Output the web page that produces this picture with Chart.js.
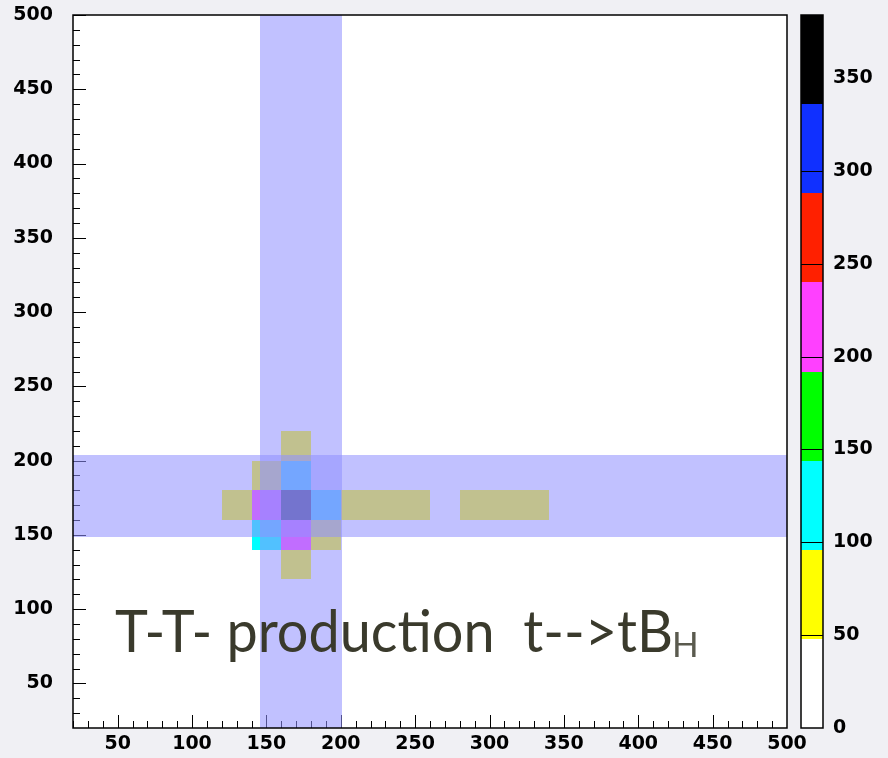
<!DOCTYPE html>
<html>
<head>
<meta charset="utf-8">
<script src="https://cdn.jsdelivr.net/npm/chart.js@4/dist/chart.umd.min.js"></script>
<style>
  html, body { margin: 0; padding: 0; background: #f0f0f4; }
  #wrap { width: 888px; height: 758px; }
</style>
</head>
<body>
<div id="wrap"><canvas id="c" width="888" height="758"></canvas></div>
<script>
// 2-D histogram: lower bin edges and bin contents
const binWidth = 20;
const cellX = [160, 140, 160, 120, 140, 160, 180, 200, 220, 240, 280, 300, 320, 140, 160, 180, 160];
const cellY = [200, 180, 180, 160, 160, 160, 160, 160, 160, 160, 160, 160, 160, 140, 140, 140, 120];
const cellValues = [62, 55, 118, 71, 214, 384, 127, 58, 52, 50, 53, 66, 49, 104, 205, 76, 60];

// Selection windows shaded across the plane
const windowX = [145.5, 201];
const windowY = [148.3, 203.9];

// Axes
const axisMin = 20;
const axisMax = 500;
const xTickLabels = [50, 100, 150, 200, 250, 300, 350, 400, 450, 500];
const yTickLabels = [50, 100, 150, 200, 250, 300, 350, 400, 450, 500];
const zMax = 384;
const zTickLabels = [0, 50, 100, 150, 200, 250, 300, 350];
const paletteColors = ['#ffffff', '#ffff00', '#00ffff', '#00ff00', '#ff40ff', '#ff2000', '#1030ff', '#000000'];

// caption; a zero-width non-joiner keeps "t" and "i" as separate glyphs
const caption = 'T-T- produc\u200Ction  t-->tB';
const captionSub = 'H';

const tickFont = { family: 'DejaVu Sans', size: 19, weight: 'bold', lineHeight: 1.2 };

function colourFor(v) {
  const n = paletteColors.length;
  const k = Math.min(n - 1, Math.floor(v / zMax * n));
  return paletteColors[k];
}

// keep label padding from shrinking the plot vertically
function noEdgePadding(s) {
  s.paddingTop = 0;
  s.paddingBottom = 0;
}

const histPlugin = {
  id: 'histPlugin',
  beforeDraw(chart) {
    const ctx = chart.ctx, a = chart.chartArea;
    ctx.save();
    ctx.fillStyle = '#f0f0f4';
    ctx.fillRect(0, 0, chart.width, chart.height);
    ctx.fillStyle = '#ffffff';
    ctx.fillRect(a.left, a.top, a.right - a.left, a.bottom - a.top);
    ctx.restore();
  },
  afterDatasetsDraw(chart) {
    const ctx = chart.ctx, a = chart.chartArea;
    const xs = chart.scales.x, ys = chart.scales.y, zs = chart.scales.z;
    const px = v => Math.round(xs.getPixelForValue(v));
    const py = v => Math.round(ys.getPixelForValue(v));
    ctx.save();

    // bins
    ctx.save();
    ctx.beginPath();
    ctx.rect(a.left, a.top, a.right - a.left, a.bottom - a.top);
    ctx.clip();
    for (let i = 0; i < cellValues.length; i++) {
      const x0 = px(cellX[i]);
      const x1 = px(cellX[i] + binWidth);
      const y0 = py(cellY[i] + binWidth);
      const y1 = py(cellY[i]);
      ctx.fillStyle = colourFor(cellValues[i]);
      ctx.fillRect(x0, y0, x1 - x0, y1 - y0);
    }

    // inner tick marks on the left and bottom axes
    ctx.strokeStyle = '#000';
    ctx.lineWidth = 1;
    ctx.beginPath();
    for (let v = axisMin; v <= axisMax; v += 10) {
      const len = v % 50 === 0 ? 13 : 7;
      const tx = px(v) + 0.5;
      ctx.moveTo(tx, a.bottom);
      ctx.lineTo(tx, a.bottom - len);
      const ty = py(v) + 0.5;
      ctx.moveTo(a.left, ty);
      ctx.lineTo(a.left + len, ty);
    }
    ctx.stroke();

    // translucent windows
    ctx.fillStyle = 'rgba(145,145,255,0.56)';
    const wx0 = px(windowX[0]), wx1 = px(windowX[1]);
    ctx.fillRect(wx0, a.top, wx1 - wx0, a.bottom - a.top);
    const wy0 = py(windowY[1]), wy1 = py(windowY[0]);
    ctx.fillRect(a.left, wy0, a.right - a.left, wy1 - wy0);
    ctx.restore();

    // frame
    ctx.strokeStyle = '#000';
    ctx.lineWidth = 1.5;
    ctx.strokeRect(a.left, a.top, a.right - a.left, a.bottom - a.top);

    // colour scale
    const cbLeft = Math.round(a.right + 14), cbWidth = 22;
    const n = paletteColors.length;
    for (let k = 0; k < n; k++) {
      const yTop = Math.round(zs.getPixelForValue((k + 1) * zMax / n));
      const yBot = Math.round(zs.getPixelForValue(k * zMax / n));
      ctx.fillStyle = paletteColors[k];
      ctx.fillRect(cbLeft, yTop, cbWidth, yBot - yTop);
    }
    ctx.strokeStyle = '#000';
    ctx.lineWidth = 1;
    ctx.beginPath();
    zTickLabels.forEach(v => {
      if (v <= 0) return;
      const ty = Math.round(zs.getPixelForValue(v)) + 0.5;
      ctx.moveTo(cbLeft, ty);
      ctx.lineTo(cbLeft + cbWidth, ty);
    });
    ctx.stroke();
    ctx.lineWidth = 1.5;
    ctx.strokeRect(cbLeft, zs.getPixelForValue(zMax), cbWidth, zs.getPixelForValue(0) - zs.getPixelForValue(zMax));

    // caption
    ctx.font = '400 58px Lato';
    ctx.fillStyle = '#3a3a2c';
    ctx.textBaseline = 'alphabetic';
    ctx.textAlign = 'left';
    const m = ctx.measureText(caption);
    const ink = m.actualBoundingBoxLeft + m.actualBoundingBoxRight;
    const textLeft = 115, textRight = 670.7, baseline = 652.3;
    const sx = (textRight - textLeft) / ink;
    ctx.save();
    ctx.translate(textLeft, baseline);
    ctx.scale(sx, 1);
    ctx.fillText(caption, m.actualBoundingBoxLeft, 0);
    ctx.restore();
    ctx.font = '400 35px Lato';
    ctx.fillStyle = '#5a5a4e';
    const ms = ctx.measureText(captionSub);
    ctx.fillText(captionSub, 675 + ms.actualBoundingBoxLeft, 656.7);

    ctx.restore();
  }
};

new Chart(document.getElementById('c'), {
  type: 'scatter',
  data: {
    datasets: [{
      data: cellValues.map((v, i) => ({ x: cellX[i] + binWidth / 2, y: cellY[i] + binWidth / 2 })),
      pointRadius: 0,
      pointHoverRadius: 0,
      showLine: false
    }]
  },
  options: {
    responsive: false,
    devicePixelRatio: 1,
    animation: false,
    events: [],
    layout: { padding: { top: 15, left: 0, right: 0, bottom: 0 } },
    plugins: { legend: { display: false }, tooltip: { enabled: false }, title: { display: false } },
    scales: {
      x: {
        type: 'linear', position: 'bottom', min: axisMin, max: axisMax,
        afterBuildTicks: s => { s.ticks = xTickLabels.map(v => ({ value: v })); },
        afterFit: s => { s.height = 30; s.paddingLeft = 0; s.paddingRight = 0; },
        grid: { display: false, drawTicks: false },
        border: { display: false },
        ticks: { font: tickFont, color: '#000', padding: 5, maxRotation: 0, autoSkip: false }
      },
      y: {
        type: 'linear', position: 'left', min: axisMin, max: axisMax,
        afterBuildTicks: s => { s.ticks = yTickLabels.map(v => ({ value: v })); },
        afterFit: s => { s.width = 73; noEdgePadding(s); },
        grid: { display: false, drawTicks: false },
        border: { display: false },
        ticks: { font: tickFont, color: '#000', padding: 20, autoSkip: false }
      },
      z: {
        type: 'linear', position: 'right', min: 0, max: zMax,
        afterBuildTicks: s => { s.ticks = zTickLabels.map(v => ({ value: v })); },
        afterFit: s => { s.width = 101; noEdgePadding(s); },
        grid: { display: false, drawTicks: false },
        border: { display: false },
        ticks: { font: tickFont, color: '#000', padding: 46, autoSkip: false }
      }
    }
  },
  plugins: [histPlugin]
});
</script>
</body>
</html>
